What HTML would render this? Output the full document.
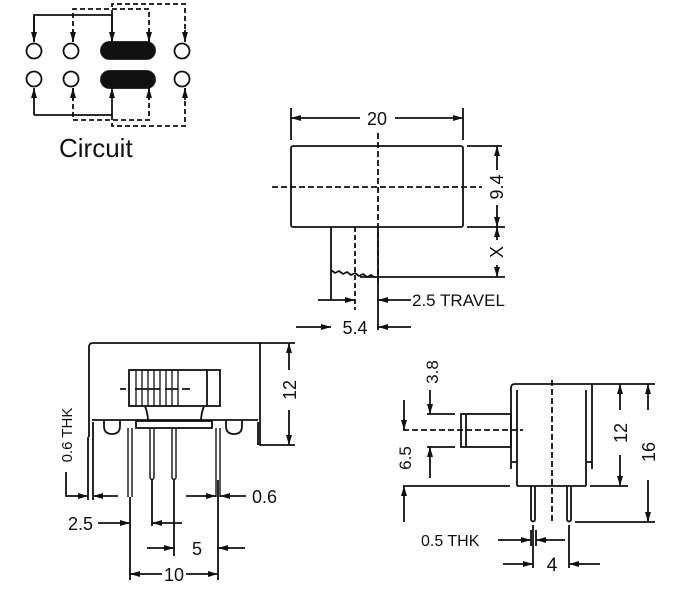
<!DOCTYPE html>
<html><head><meta charset="utf-8"><style>
html,body{margin:0;padding:0;background:#fff}
svg{display:block}
text{font-family:"Liberation Sans",sans-serif;fill:#111}
</style></head><body>
<svg width="683" height="593" viewBox="0 0 683 593" xmlns="http://www.w3.org/2000/svg">
<defs>
<marker id="a" viewBox="0 0 10 6" refX="10" refY="3" markerWidth="11" markerHeight="6" orient="auto" markerUnits="userSpaceOnUse"><path d="M0,0 L10,3 L0,6 Z" fill="#111"/></marker>
</defs>
<g stroke="#111" stroke-width="1.8" fill="none">
<!-- Circuit -->
<circle cx="34" cy="51" r="7.5"/><circle cx="71" cy="51" r="7.5"/><circle cx="182" cy="51" r="7.5"/>
<circle cx="34" cy="79" r="7.5"/><circle cx="71" cy="79" r="7.5"/><circle cx="182" cy="79" r="7.5"/>
<rect x="101" y="42" width="54" height="17" rx="8.5" fill="#111"/>
<rect x="101" y="71" width="54" height="17" rx="8.5" fill="#111"/>
<path d="M34,42 V15 H112 V42"/>
<path d="M34,15 V42" marker-end="url(#a)"/><path d="M112,15 V42" marker-end="url(#a)"/>
<path d="M34,115 V88" marker-end="url(#a)"/><path d="M112,115 V88" marker-end="url(#a)"/>
<path d="M34,115 H112"/>
<g stroke-dasharray="5,3">
<path d="M73,42 V9 H149 V42"/><path d="M112,15 V4 H185 V42"/>
<path d="M73,88 V120 H149 V88"/><path d="M112,115 V126 H185 V88"/>
</g>
<path d="M73,30 V42" marker-end="url(#a)"/><path d="M149,30 V42" marker-end="url(#a)"/><path d="M185,30 V42" marker-end="url(#a)"/>
<path d="M73,100 V88" marker-end="url(#a)"/><path d="M149,100 V88" marker-end="url(#a)"/><path d="M185,100 V88" marker-end="url(#a)"/>

<!-- Top view -->
<rect x="291" y="146" width="172" height="81" rx="2"/>
<path d="M291,108 V140 M463,108 V140"/>
<path d="M360,118 H291" marker-end="url(#a)"/><path d="M395,118 H463" marker-end="url(#a)"/>
<path d="M378,133 V285 M272,187 H482" stroke-dasharray="6,3"/>
<path d="M331,227 V300 M378,227 V330"/>
<path d="M355,227 V310" stroke-dasharray="5,3"/>
<path d="M331,270 l4,3 l4,-2 l4,3 l4,-2 l4,3 l4,-2 l4,3 l4,-2 l4,3 l4,-2 l3,2"/>
<path d="M360,277 H505 M467,146 H502 M467,227 H505"/>
<path d="M497,170 V146" marker-end="url(#a)"/><path d="M497,205 V227" marker-end="url(#a)"/>
<path d="M497,240 V227" marker-end="url(#a)"/><path d="M497,265 V277" marker-end="url(#a)"/>
<path d="M318,300 H355" marker-end="url(#a)"/><path d="M411,300 H378" marker-end="url(#a)"/>
<path d="M296,327 H331" marker-end="url(#a)"/><path d="M411,327 H378" marker-end="url(#a)"/>

<!-- Front view -->
<path d="M89,437 V347 Q89,343 93,343 H260 V445 H295"/>
<path d="M93,437 V422 M258,445 V422 M92,420 H258"/>
<path d="M260,343 H295"/>
<path d="M289,370 V343" marker-end="url(#a)"/><path d="M289,410 V445" marker-end="url(#a)"/>
<rect x="129" y="370" width="91" height="36"/>
<path d="M207,370 V406"/>
<g stroke-width="1.3"><path d="M136,370 V406 M142,370 V406 M148,370 V406 M154,370 V406 M160,370 V406 M166,370 V406 M172,370 V406 M178,370 V406"/></g>
<path d="M120,389 H126 M135,389 H160 M165,389 H178 M182,389 H190"/>
<path d="M145,406 Q148,414 148,421 M204,406 Q201,414 201,421"/>
<rect x="136" y="421" width="76" height="7"/>
<path d="M104,420 v6 q0,8 8,8 q8,0 8,-8 v-6 M226,420 v6 q0,8 8,8 q8,0 8,-8 v-6"/>
<g stroke-width="1.4">
<path d="M128,428 V497 M132,428 V497 M150,428 V478 q2,3 4,0 V428 M172,428 V478 q2,3 4,0 V428 M216,428 V497 M220,428 V497"/>
</g>
<path d="M88,437 V500 M93,437 V500 M152,480 V526 M174,480 V556 M130,497 V580 M218,480 V580"/>
<path d="M66,472 V496 H88" marker-end="url(#a)"/><path d="M118,496 H93" marker-end="url(#a)"/>
<path d="M98,523 H130" marker-end="url(#a)"/><path d="M182,523 H152" marker-end="url(#a)"/>
<path d="M186,496 H216" marker-end="url(#a)"/><path d="M246,496 H220" marker-end="url(#a)"/>
<path d="M147,548 H174" marker-end="url(#a)"/><path d="M245,548 H218" marker-end="url(#a)"/>
<path d="M162,574 H130" marker-end="url(#a)"/><path d="M186,574 H218" marker-end="url(#a)"/>

<!-- Side view -->
<path d="M511,469 V388 Q511,384 515,384 H592 V469"/>
<path d="M517,486 V390 M586,486 V390 M517,486 H586"/>
<path d="M512,462 H517 M586,462 H592"/>
<rect x="461" y="414" width="50" height="33"/>
<path d="M466,414 V447"/>
<path d="M403,430 H523 M552,380 V523" stroke-dasharray="6,3"/>
<path d="M531,486 V520 q2,3 4,0 V486 M567,486 V520 q2,3 4,0 V486"/>
<path d="M592,384 H655 M590,486 H628 M575,522 H655 M403,486 H510 M427,414 H455 M427,447 H455"/>
<path d="M620,410 V384" marker-end="url(#a)"/><path d="M620,455 V486" marker-end="url(#a)"/>
<path d="M648,410 V384" marker-end="url(#a)"/><path d="M648,480 V522" marker-end="url(#a)"/>
<path d="M430,390 V414" marker-end="url(#a)"/><path d="M430,478 V447" marker-end="url(#a)"/>
<path d="M404,400 V430" marker-end="url(#a)"/><path d="M404,522 V486" marker-end="url(#a)"/>
<path d="M533,525 V568 M569,525 V568 M531,530 V546 M536,530 V546"/>
<path d="M498,540 H531" marker-end="url(#a)"/><path d="M565,540 H536" marker-end="url(#a)"/>
<path d="M503,564 H533" marker-end="url(#a)"/><path d="M600,564 H569" marker-end="url(#a)"/>
</g>
<text x="59" y="157" font-size="26">Circuit</text>
<text x="377" y="125" font-size="18" text-anchor="middle">20</text>
<text transform="translate(503,187) rotate(-90)" font-size="18" text-anchor="middle">9.4</text>
<text transform="translate(503,252) rotate(-90)" font-size="18" text-anchor="middle">X</text>
<text x="412" y="306" font-size="17">2.5 TRAVEL</text>
<text x="355" y="334" font-size="18" text-anchor="middle">5.4</text>
<text transform="translate(296,390) rotate(-90)" font-size="18" text-anchor="middle">12</text>
<text transform="translate(72,435) rotate(-90)" font-size="15" text-anchor="middle">0.6 THK</text>
<text x="68" y="530" font-size="18">2.5</text>
<text x="252" y="503" font-size="18">0.6</text>
<text x="197" y="555" font-size="18" text-anchor="middle">5</text>
<text x="174" y="581" font-size="18" text-anchor="middle">10</text>
<text transform="translate(438,372) rotate(-90)" font-size="17" text-anchor="middle">3.8</text>
<text transform="translate(411,458) rotate(-90)" font-size="17" text-anchor="middle">6.5</text>
<text transform="translate(627,433) rotate(-90)" font-size="18" text-anchor="middle">12</text>
<text transform="translate(655,452) rotate(-90)" font-size="18" text-anchor="middle">16</text>
<text x="421" y="546" font-size="16">0.5 THK</text>
<text x="552" y="571" font-size="19" text-anchor="middle">4</text>
</svg>
</body></html>
